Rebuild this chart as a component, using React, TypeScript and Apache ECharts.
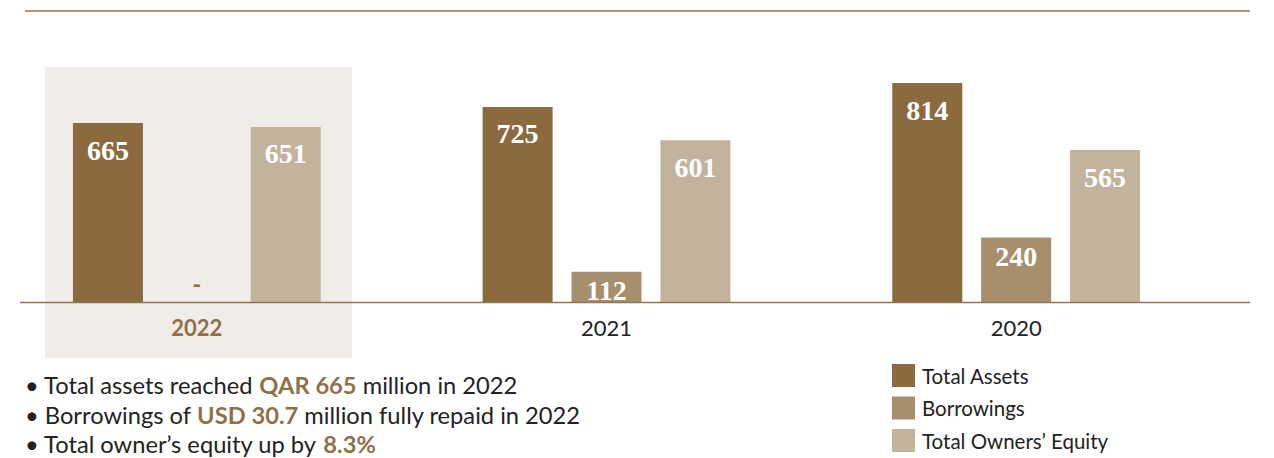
import React, { useEffect, useRef } from "react";
import * as echarts from "echarts";

const categories = ["2022", "2021", "2020"];
const totalAssets = [665, 725, 814];
const borrowings = [0, 112, 240];
const ownersEquity = [651, 601, 565];
const seriesNames = ["Total Assets", "Borrowings", "Total Owners’ Equity"];
const bullets = [
  ["Total assets reached ", "QAR 665", " million in 2022"],
  ["Borrowings of ", "USD 30.7", " million fully repaid in 2022"],
  ["Total owner’s equity up by ", "8.3%", ""],
];

const C_ASSETS = "#8a6a3e";
const C_BORROW = "#a78f6d";
const C_EQUITY = "#c4b39c";
const C_ACCENT = "#8f7149";
const C_LINE = "#8f7755";

const SERIF = "'Liberation Serif', 'DejaVu Serif', serif";
const SANS = "Lato, 'Open Sans', sans-serif";

// container is shifted 8px left; graphic x values add OX to get page coordinates
const OX = 8;

export default function App() {
  const ref = useRef<HTMLDivElement>(null);
  useEffect(() => {
    if (!ref.current) return;
    const chart = echarts.init(ref.current, undefined, { renderer: "svg" });

    const valueLabel = {
      show: true,
      position: "insideTop",
      distance: 13,
      color: "#ffffff",
      fontFamily: SERIF,
      fontWeight: "bold",
      fontSize: 28,
    };

    const mk = (vals: number[], short: number[]) =>
      vals.map((v, i) => {
        if (v === 0) {
          return {
            value: v,
            label: {
              show: true,
              position: "top",
              distance: 7,
              formatter: "-",
              color: C_ACCENT,
              fontFamily: SANS,
              fontWeight: "bold",
              fontSize: 24,
            },
          };
        }
        if (short.includes(i)) {
          return { value: v, label: { distance: 5 } };
        }
        return { value: v };
      });

    const bulletText = bullets.map((b, i) => ({
      type: "text",
      left: 25 + OX,
      top: 373 + i * 29.5,
      style: {
        text: `{n|• ${b[0]}}{b|${b[1]}}{n|${b[2]}}`,
        rich: {
          n: { fontFamily: SANS, fontSize: 23.7, fill: "#222222" },
          b: { fontFamily: SANS, fontSize: 23.7, fontWeight: "bold", fill: C_ACCENT },
        },
      },
    }));

    chart.setOption({
      animation: false,
      backgroundColor: "#ffffff",
      grid: { left: 0, width: 1229, top: 33, height: 269, containLabel: false },
      legend: {
        orient: "vertical",
        left: 892 + OX,
        top: 364,
        height: 100,
        padding: 0,
        icon: "rect",
        itemWidth: 23,
        itemHeight: 23,
        itemGap: 9.5,
        textStyle: { fontFamily: SANS, fontSize: 20.5, color: "#222222", padding: [0, 0, 0, 2] },
        data: seriesNames,
      },
      xAxis: {
        type: "category",
        data: categories,
        axisLine: { show: false },
        axisTick: { show: false },
        axisLabel: {
          margin: 14,
          formatter: (v: string) => (v === "2022" ? `{h|${v}}` : `{n|${v}}`),
          rich: {
            h: { fontFamily: SANS, fontSize: 22, fontWeight: "bold", color: C_ACCENT },
            n: { fontFamily: SANS, fontSize: 22, color: "#222222" },
          },
        },
      },
      yAxis: {
        type: "value",
        min: 0,
        max: 1000,
        show: false,
        splitLine: { show: false },
      },
      graphic: [
        {
          type: "rect",
          z: -10,
          shape: { x: 45 + OX, y: 67, width: 307, height: 291 },
          style: { fill: "#f0ece7" },
        },
        {
          type: "line",
          z: 10,
          shape: { x1: 20 + OX, y1: 302.5, x2: 1250 + OX, y2: 302.5 },
          style: { stroke: C_LINE, lineWidth: 1.3 },
        },
        {
          type: "line",
          z: 10,
          shape: { x1: 25 + OX, y1: 11, x2: 1250 + OX, y2: 11 },
          style: { stroke: C_LINE, lineWidth: 1.3 },
        },
        ...bulletText,
      ],
      series: [
        {
          name: seriesNames[0],
          type: "bar",
          barWidth: 70,
          barGap: "27%",
          itemStyle: { color: C_ASSETS },
          label: valueLabel,
          data: mk(totalAssets, []),
        },
        {
          name: seriesNames[1],
          type: "bar",
          barWidth: 70,
          barGap: "27%",
          itemStyle: { color: C_BORROW },
          label: valueLabel,
          data: mk(borrowings, [1, 2]),
        },
        {
          name: seriesNames[2],
          type: "bar",
          barWidth: 70,
          barGap: "27%",
          itemStyle: { color: C_EQUITY },
          label: valueLabel,
          data: mk(ownersEquity, []),
        },
      ],
    });
    return () => chart.dispose();
  }, []);

  return (
    <div
      ref={ref}
      style={{ position: "fixed", left: -OX, top: 0, width: 1274 + OX, height: 458, background: "#fff" }}
    />
  );
}
